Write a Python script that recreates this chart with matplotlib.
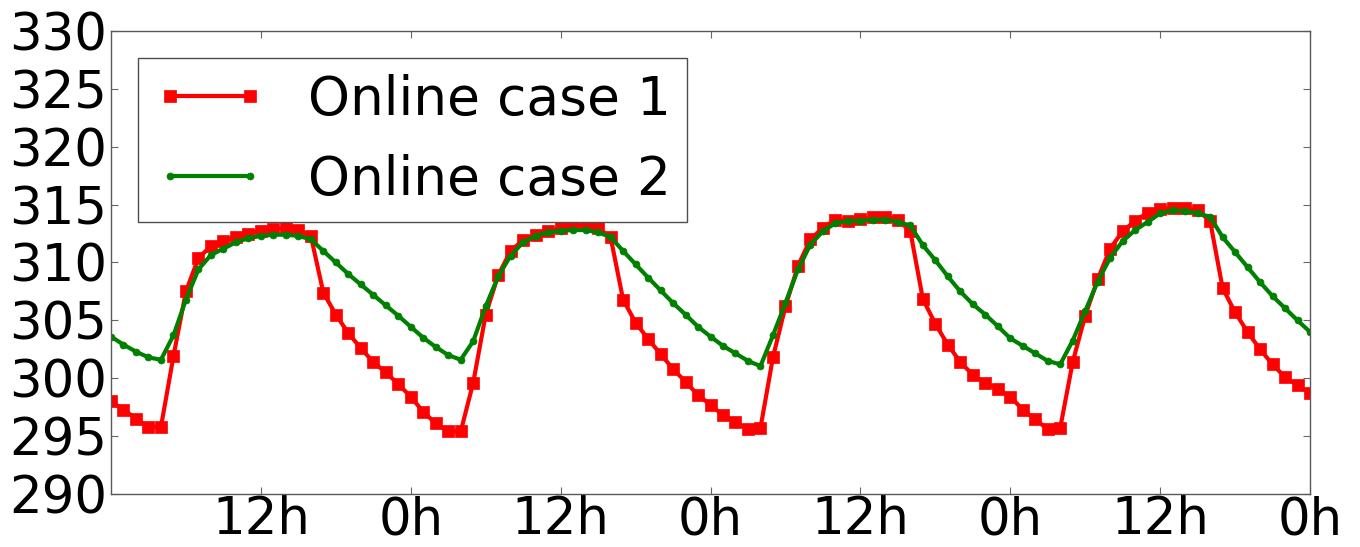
import matplotlib
matplotlib.use("Agg")
import matplotlib.pyplot as plt
import numpy as np

hours = list(range(0, 97))

case1 = [298.0, 297.3, 296.5, 295.8, 295.8, 301.9, 307.5, 310.4, 311.4, 311.85,
         312.2, 312.5, 312.75, 312.9, 312.95, 312.8, 312.3, 307.4, 305.5, 303.9,
         302.6, 301.4, 300.5, 299.5, 298.4, 297.1, 296.1, 295.4, 295.4, 299.6,
         305.5, 308.9, 311.0, 311.95, 312.4, 312.7, 312.95, 313.2, 313.2, 312.95,
         312.2, 306.8, 304.8, 303.4, 302.1, 300.8, 299.7, 298.55, 297.7, 296.8,
         296.2, 295.6, 295.7, 301.8, 306.2, 309.7, 312.0, 313.0, 313.7, 313.6,
         313.75, 313.9, 313.95, 313.7, 312.7, 306.85, 304.7, 302.9, 301.4, 300.3,
         299.6, 299.05, 298.4, 297.3, 296.45, 295.6, 295.7, 301.4, 305.4, 308.55,
         311.2, 312.7, 313.6, 314.3, 314.6, 314.7, 314.7, 314.5, 313.6, 307.8,
         305.7, 304.0, 302.5, 301.2, 300.1, 299.4, 298.7]

case2 = [303.6, 302.9, 302.3, 301.8, 301.6, 303.7, 306.8, 309.4, 310.65, 311.2,
         311.75, 312.1, 312.3, 312.4, 312.4, 312.3, 312.0, 311.0, 310.0, 309.0,
         308.1, 307.2, 306.3, 305.4, 304.45, 303.5, 302.7, 302.0, 301.6, 303.2,
         306.2, 308.8, 310.6, 311.75, 312.3, 312.6, 312.75, 312.8, 312.8, 312.6,
         312.2, 311.0, 309.85, 308.7, 307.6, 306.5, 305.5, 304.45, 303.6, 302.8,
         302.15, 301.5, 301.05, 303.7, 306.5, 309.4, 311.55, 312.7, 313.4, 313.6,
         313.6, 313.7, 313.7, 313.5, 313.2, 311.5, 310.2, 308.8, 307.5, 306.4,
         305.5, 304.5, 303.45, 302.8, 302.15, 301.5, 301.2, 303.25, 305.8, 308.35,
         310.4, 311.85, 312.8, 313.5, 314.25, 314.5, 314.45, 314.25, 313.95, 312.2,
         310.9, 309.6, 308.3, 307.1, 306.05, 305.0, 304.0]

xtick_pos = [12, 24, 36, 48, 60, 72, 84, 96]
xtick_labels = ["12h", "0h", "12h", "0h", "12h", "0h", "12h", "0h"]
ytick_pos = [290, 295, 300, 305, 310, 315, 320, 325, 330]
labels = ["Online case 1", "Online case 2"]

plt.rcParams['font.family'] = ['DejaVu Sans']

fig = plt.figure(figsize=(13.6, 5.47), dpi=100)
ax = fig.add_axes([111/1360, 53/547, 1199/1360, 463/547])

ax.plot(hours, case1, color=(1, 0, 0), lw=3, marker='s', markersize=8,
        markeredgecolor=(1, 0, 0), markeredgewidth=0.5, label=labels[0])
ax.plot(hours, case2, color=(0, 0.5, 0), lw=3, marker='o', markersize=5,
        markeredgecolor=(0, 0.5, 0), markeredgewidth=0.5, label=labels[1])

ax.set_xlim(0, 96)
ax.set_ylim(290, 330)
ax.set_xticks(xtick_pos)
ax.set_xticklabels(xtick_labels)
ax.set_yticks(ytick_pos)
ax.tick_params(axis='both', direction='in', length=5, width=0.8, color='0.4',
               labelsize=37, top=True, right=True)
ax.tick_params(axis='y', pad=3)
ax.tick_params(axis='x', pad=1)
for s in ax.spines.values():
    s.set_color('0.35')
    s.set_linewidth(1.0)

leg = ax.legend(loc='upper left', fontsize=38.4, numpoints=2, handlelength=2.1,
                handletextpad=0.79, borderpad=0.3, labelspacing=0.53,
                borderaxespad=0.5, fancybox=False, framealpha=1)
leg.get_frame().set_edgecolor('0.3')
leg.get_frame().set_linewidth(1.0)

fig.savefig("out.png", dpi=100, facecolor='white')
